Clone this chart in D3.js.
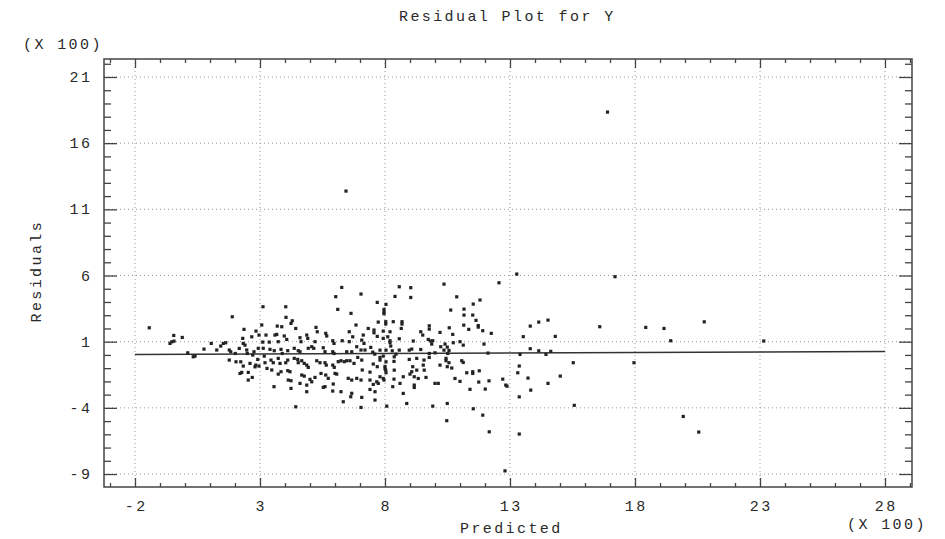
<!DOCTYPE html>
<html>
<head>
<meta charset="utf-8">
<title>Residual Plot for Y</title>
<script src="https://d3js.org/d3.v7.min.js"></script>
<style>
body { margin: 0; background: #fff; }
svg { display: block; }
text { font-family: "Liberation Mono", "DejaVu Sans Mono", monospace; fill: #2a2a2a; }
</style>
</head>
<body>
<script>
var width = 945, height = 539;

// tick labels (axes are in units of 100)
var xTicks = [-2, 3, 8, 13, 18, 23, 28];
var yTicks = [-9, -4, 1, 6, 11, 16, 21];

// fitted line of residuals vs predicted
var fitX = [-2, 28];
var fitY = [0.04, 0.26];

// residual points [predicted, residual]
var sparsePoints = [
  [16.9, 18.35], [6.44, 12.38],
  [13.27, 6.11], [12.56, 5.45], [11.53, 3.84], [11.8, 4.15], [11.64, 2.61], [11.73, 2.22], [11.73, 2.1],
  [11.91, 1.83], [12.25, 1.63], [11.96, 0.82], [12.12, 0.14], [11.51, -1.27], [11.51, -1.4], [11.77, -1.2],
  [11.75, -2.05], [12.16, -1.96], [12.01, -2.58], [11.4, -2.6], [11.53, -4.07], [11.91, -4.55], [12.17, -5.81],
  [12.8, -8.76], [12.71, -1.83], [12.83, -2.28], [12.88, -2.36], [13.31, -1.35], [13.37, -0.84], [13.4, 0.04],
  [13.37, -3.17], [13.37, -5.98], [13.53, 1.38], [13.81, 2.18], [14.15, 2.48], [14.52, 2.63], [13.81, 0.47],
  [13.72, -1.75], [13.83, -2.66], [14.15, 0.31], [14.44, 0.04], [14.63, 0.27], [14.81, 1.4], [14.52, -2.15],
  [15.01, -1.6], [15.53, -0.59], [15.57, -3.81],
  [17.2, 5.91], [16.59, 2.13], [17.96, -0.59], [18.43, 2.08], [19.16, 2.0], [19.43, 1.07], [20.77, 2.5],
  [19.93, -4.65], [20.55, -5.83], [23.15, 1.05]
];

var leftPoints = [
  [-1.43, 2.05], [-0.6, 0.87], [-0.53, 0.99], [-0.44, 1.04], [-0.45, 1.47], [-0.11, 1.32], [0.11, 0.16],
  [0.33, -0.14], [0.4, -0.09], [0.76, 0.44], [1.05, 0.87], [1.27, 0.37], [1.43, 0.67], [1.53, 0.87],
  [1.63, 0.92], [1.89, 2.88], [1.77, 0.37], [1.83, 0.24], [1.77, -0.39], [2.01, 0.11], [2.04, -0.52],
  [2.17, 0.49], [2.23, -0.52], [2.31, 1.25], [2.36, 1.93], [2.33, 0.87], [2.4, 0.74], [2.47, 0.37],
  [2.49, 0.11], [2.6, -0.64], [2.67, 1.37], [2.71, -0.01], [2.76, 0.24], [2.84, 1.8], [2.27, -1.32],
  [2.53, -1.32], [2.33, -0.84], [2.69, -1.7], [2.8, -0.9], [2.2, -1.4], [2.53, -1.9]
];

var midPoints = [
  [6.27, 5.1], [6.03, 4.4], [7.04, 4.6], [3.12, 3.64], [4.03, 3.64], [6.11, 3.44], [6.64, 3.14], [3.07, 2.26],
  [4.04, 2.84], [4.29, 2.58], [4.24, 2.38], [3.69, 2.18], [3.87, 2.13], [4.43, 2.0], [5.24, 2.08], [5.29, 1.75],
  [6.84, 2.26], [7.33, 2.0], [2.96, 1.5], [3.24, 1.5], [3.6, 1.5], [3.67, 1.55], [4.07, 1.17], [3.97, 1.43],
  [4.87, 1.5], [4.91, 1.25], [5.63, 1.63], [5.67, 1.43], [6.57, 1.75], [6.71, 1.37], [7.13, 1.5], [3.11, 0.97],
  [3.37, 0.97], [3.73, 1.0], [4.6, 1.3], [4.64, 1.0], [5.2, 1.0], [5.91, 1.07], [5.96, 0.87], [6.29, 1.07],
  [6.57, 1.0], [7.07, 1.12], [7.16, 0.87], [2.93, 0.5], [3.13, 0.5], [3.4, 0.42], [3.57, 0.32], [3.84, 0.42],
  [3.89, 0.11], [4.11, 0.32], [4.37, 0.5], [4.53, 0.32], [4.6, 0.24], [4.93, 0.5], [5.07, 0.62], [5.15, 0.5],
  [5.53, 0.54], [5.6, 0.24], [5.91, 0.24], [5.96, 0.11], [6.47, 0.24], [6.67, 0.24], [6.87, 0.62], [7.04, 0.37],
  [7.2, 0.37], [2.91, -0.34], [2.83, -0.77], [2.96, -0.84], [3.17, -0.09], [3.2, -0.59], [3.44, -0.39],
  [3.53, -0.59], [3.28, -1.02], [3.47, -1.14], [3.73, -0.26], [3.8, -0.64], [4.03, -0.59], [4.11, -0.39],
  [3.73, -1.45], [3.84, -1.27], [4.11, -1.19], [4.2, -1.27], [4.37, -0.26], [4.51, -0.34], [4.53, -0.59],
  [4.67, -0.44], [4.77, -0.64], [4.87, -0.77], [4.93, -0.94], [5.27, -0.44], [5.4, -0.59], [5.6, -0.59],
  [5.65, -0.77], [5.91, -0.77], [5.97, -0.94], [6.13, -0.51], [6.24, -0.44], [6.37, -0.51], [6.47, -0.44],
  [6.6, -0.44], [6.76, -0.64], [6.91, -0.19], [7.07, -0.39], [7.09, -1.14], [4.67, -1.52], [4.77, -1.6],
  [5.0, -1.85], [5.07, -2.03], [5.2, -1.7], [5.44, -1.4], [5.63, -1.52], [5.73, -1.77], [6.0, -1.4],
  [6.07, -1.45], [6.53, -1.77], [6.67, -1.9], [6.87, -1.77], [7.04, -1.9], [4.13, -1.9], [4.24, -1.95],
  [4.6, -2.15], [4.87, -2.28], [5.53, -2.45], [5.6, -2.4], [5.93, -2.2], [3.56, -2.4], [4.24, -2.53],
  [4.87, -2.78], [6.24, -2.78], [6.33, -3.54], [6.67, -2.9], [6.63, -3.16], [7.07, -3.21], [4.43, -3.92],
  [7.04, -3.97], [5.91, -2.73]
];

var densePoints = [
  [10.36, 5.35], [8.57, 5.15], [9.03, 5.08], [8.4, 4.42], [9.03, 4.34], [10.87, 4.39], [7.69, 3.97], [8.04, 3.82],
  [7.96, 3.44], [7.96, 3.24], [7.96, 3.11], [10.63, 3.39], [11.16, 3.46], [11.51, 3.01], [11.16, 3.01],
  [8.03, 2.51], [8.03, 2.33], [8.33, 2.51], [7.73, 2.48], [8.68, 2.51], [8.68, 2.33], [9.77, 2.2], [9.77, 1.95],
  [7.56, 1.88], [7.56, 1.67], [7.93, 1.8], [8.2, 1.75], [8.65, 2.0], [9.43, 1.75], [9.51, 1.5], [10.2, 1.7],
  [10.57, 2.05], [10.71, 1.55], [11.15, 2.25], [11.35, 1.93], [7.69, 1.4], [7.93, 1.25], [8.11, 1.37],
  [8.57, 1.22], [8.2, 1.07], [8.2, 0.92], [9.13, 1.05], [9.73, 1.17], [9.83, 1.05], [9.91, 1.07], [9.87, 0.82],
  [11.0, 1.0], [10.73, 0.92], [10.4, 0.82], [10.49, 0.59], [10.23, 0.62], [8.04, 0.36], [8.23, 0.67],
  [8.29, 0.31], [7.43, 0.57], [7.51, 0.21], [7.59, 0.06], [7.8, 0.36], [7.8, -0.19], [7.93, -0.09], [8.57, 0.36],
  [8.44, 0.06], [8.37, -0.14], [8.97, 0.36], [9.07, 0.44], [9.43, 0.41], [9.77, 0.11], [10.0, 0.16],
  [10.36, 0.36], [10.56, 0.34], [10.51, 0.11], [11.13, 0.74], [7.8, -0.39], [8.04, -0.52], [8.0, -0.87],
  [8.0, -1.05], [7.53, -0.69], [7.69, -0.89], [7.4, -1.3], [8.36, -0.49], [8.97, -0.34], [9.27, -0.26],
  [9.56, -0.39], [9.77, -0.19], [10.44, -0.26], [10.44, -0.44], [10.56, -0.59], [11.07, -0.44], [11.13, -0.57],
  [8.03, -1.15], [8.04, -1.35], [8.37, -1.15], [9.11, -0.89], [9.07, -1.27], [9.27, -1.15], [9.53, -0.77],
  [9.57, -1.15], [10.49, -0.89], [10.67, -0.99], [10.2, -0.77], [7.8, -1.65], [7.93, -1.78], [7.73, -2.15],
  [7.53, -2.23], [7.67, -2.03], [8.36, -1.83], [8.73, -1.65], [9.17, -1.65], [9.0, -1.45], [9.64, -1.7],
  [9.33, -1.78], [10.8, -1.78], [11.27, -1.35], [7.4, -1.9], [7.96, -1.9], [8.31, -2.4], [7.4, -2.61],
  [7.6, -2.78], [9.17, -2.28], [9.17, -2.46], [8.6, -2.15], [10.0, -2.15], [10.13, -2.15], [11.0, -2.0],
  [8.73, -2.91], [7.6, -3.41], [8.07, -3.87], [8.87, -3.67], [9.91, -3.87], [10.49, -3.67], [10.47, -4.97]
];

var allPoints = leftPoints.concat(midPoints, densePoints, sparsePoints);

// plot frame
var frameL = 104, frameR = 912, frameT = 59, frameB = 487;
var fontSize = 15, spacing = 2.4;

var x = d3.scaleLinear().domain([-3.24, 29.08]).range([frameL, frameR]);
var y = d3.scaleLinear().domain([-9.98, 22.36]).range([frameB, frameT]);

var xMinor = d3.range(-3, 30).filter(function(d) { return xTicks.indexOf(d) < 0; });
var yMinor = d3.range(-9, 23).filter(function(d) { return yTicks.indexOf(d) < 0; });

var svg = d3.select("body").append("svg")
    .attr("width", width)
    .attr("height", height);

// dotted grid
var grid = svg.append("g");
grid.selectAll("line.gx")
    .data(xTicks)
  .enter().append("line")
    .attr("class", "gx")
    .attr("x1", function(d) { return x(d); })
    .attr("x2", function(d) { return x(d); })
    .attr("y1", frameT)
    .attr("y2", frameB)
    .attr("stroke", "#999")
    .attr("stroke-dasharray", "1,3");
grid.selectAll("line.gy")
    .data(yTicks)
  .enter().append("line")
    .attr("class", "gy")
    .attr("y1", function(d) { return y(d); })
    .attr("y2", function(d) { return y(d); })
    .attr("x1", frameL)
    .attr("x2", frameR)
    .attr("stroke", "#999")
    .attr("stroke-dasharray", "1,3");

// ticks on all four sides, pointing inward
function addAxis(axis, tx, ty) {
  var g = svg.append("g")
      .attr("transform", "translate(" + tx + "," + ty + ")")
      .call(axis);
  g.select(".domain").remove();
  g.selectAll("text").remove();
  g.selectAll("line").attr("stroke", "#444").attr("stroke-width", 1.3);
}
addAxis(d3.axisBottom(x).tickValues(xTicks).tickSize(-9), 0, frameB);
addAxis(d3.axisBottom(x).tickValues(xMinor).tickSize(-4), 0, frameB);
addAxis(d3.axisTop(x).tickValues(xTicks).tickSize(-9), 0, frameT);
addAxis(d3.axisTop(x).tickValues(xMinor).tickSize(-4), 0, frameT);
addAxis(d3.axisLeft(y).tickValues(yTicks).tickSize(-13), frameL, 0);
addAxis(d3.axisLeft(y).tickValues(yMinor).tickSize(-7), frameL, 0);
addAxis(d3.axisRight(y).tickValues(yTicks).tickSize(-13), frameR, 0);
addAxis(d3.axisRight(y).tickValues(yMinor).tickSize(-7), frameR, 0);

svg.append("rect")
    .attr("x", frameL)
    .attr("y", frameT)
    .attr("width", frameR - frameL)
    .attr("height", frameB - frameT)
    .attr("fill", "none")
    .attr("stroke", "#444")
    .attr("stroke-width", 1.5);

// fitted line
svg.append("line")
    .attr("x1", x(fitX[0]))
    .attr("y1", y(fitY[0]))
    .attr("x2", x(fitX[1]))
    .attr("y2", y(fitY[1]))
    .attr("stroke", "#333")
    .attr("stroke-width", 1.5);

// residual points
svg.append("g").selectAll("rect")
    .data(allPoints)
  .enter().append("rect")
    .attr("x", function(d) { return x(d[0]) - 1.6; })
    .attr("y", function(d) { return y(d[1]) - 1.6; })
    .attr("width", 3.2)
    .attr("height", 3.2)
    .attr("fill", "#222");

// labels
function label(str, px, py, anchor, rotate) {
  var t = svg.append("text")
      .attr("x", px)
      .attr("y", py)
      .attr("font-size", fontSize)
      .attr("letter-spacing", spacing)
      .attr("text-anchor", anchor)
      .text(str);
  if (rotate) t.attr("transform", "rotate(-90," + px + "," + py + ")");
  return t;
}

label("Residual Plot for Y", 399, 21, "start");
label("(X 100)", 23, 49, "start");
label("(X 100)", 847, 529, "start");
label("Predicted", 460, 533, "start");
label("Residuals", 41, 270 + spacing / 2, "middle", true);

svg.append("g").selectAll("text")
    .data(yTicks)
  .enter().append("text")
    .attr("x", 90 + spacing)
    .attr("y", function(d) { return y(d) + 5; })
    .attr("font-size", fontSize)
    .attr("letter-spacing", spacing)
    .attr("text-anchor", "end")
    .text(function(d) { return d; });

svg.append("g").selectAll("text")
    .data(xTicks)
  .enter().append("text")
    .attr("x", function(d) { return x(d) + spacing / 2; })
    .attr("y", 511)
    .attr("font-size", fontSize)
    .attr("letter-spacing", spacing)
    .attr("text-anchor", "middle")
    .text(function(d) { return d; });
</script>
</body>
</html>
